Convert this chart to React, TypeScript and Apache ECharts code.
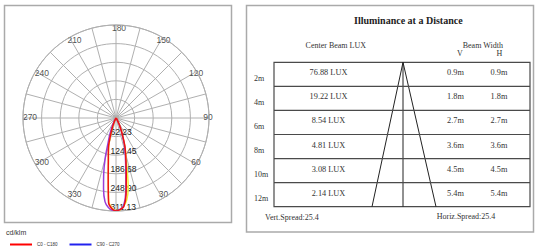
import React, { useEffect, useRef } from 'react';
import * as echarts from 'echarts';

// ---- polar photometric data ----
const angles = [-40, -35, -30, -27.5, -25, -22.5, -20, -17.5, -15, -12.5, -10, -7.5, -5, -2.5, 0, 2.5, 5, 7.5, 10, 12.5, 15, 17.5, 20, 22.5, 25, 27.5, 30, 35, 40];
const c0c180 = [0, 1, 3, 6, 13, 24, 40, 62, 95, 118, 148, 200, 285, 304, 311, 307, 298, 258, 198, 155, 124, 98, 68, 48, 32, 20, 11, 3, 0];
const c90c270 = [0, 2, 8, 16, 28, 44, 64, 90, 140, 190, 240, 282, 300, 309, 310, 306, 294, 250, 190, 148, 118, 92, 64, 44, 28, 16, 8, 2, 0];
const c45c225 = [0, 1, 3, 6, 12, 23, 38, 60, 92, 115, 145, 196, 280, 302, 309, 308, 296, 276, 236, 170, 128, 98, 68, 48, 32, 20, 11, 3, 0];

const radiusMax = 311.13;
const radiusStep = 62.226;
const angleLabels = [30, 60, 90, 120, 150, 180, 210, 240, 270, 300, 330];

// ---- illuminance table data ----
const distances = ['2m', '4m', '6m', '8m', '10m', '12m'];
const centerLux = [76.88, 19.22, 8.54, 4.81, 3.08, 2.14];
const beamV = [0.9, 1.8, 2.7, 3.6, 4.5, 5.4];
const beamH = [0.9, 1.8, 2.7, 3.6, 4.5, 5.4];
const vertSpread = 25.4;
const horizSpread = 25.4;

const toPolar = (vals: number[]) => vals.map((v, i) => [v, (angles[i] + 360) % 360]);

export default function App() {
  const ref = useRef<HTMLDivElement>(null);
  useEffect(() => {
    if (!ref.current) return;
    const chart = echarts.init(ref.current, undefined, { renderer: 'svg' });
    const serif = 'Liberation Serif';
    const sans = 'Liberation Sans';
    const txt = '#333';

    const rowTop = 62.3;
    const rowH = 24.07;
    const tLeft = 274;
    const tRight = 530;
    const tBottom = rowTop + rowH * distances.length;
    const apexX = 403;

    const graphic: any[] = [
      { type: 'rect', shape: { x: 4.5, y: 5.5, width: 227, height: 217 }, style: { fill: 'none', stroke: '#aaa', lineWidth: 1.5 }, z: -1 },
      { type: 'rect', shape: { x: 246.5, y: 5.5, width: 287, height: 226.5 }, style: { fill: 'none', stroke: '#aaa', lineWidth: 1.5 }, z: -1 },
      { type: 'text', style: { text: 'cd/klm', x: 6, y: 232, fontSize: 7, fontFamily: sans, fill: txt, verticalAlign: 'middle' } },
      { type: 'text', style: { text: 'Illuminance at a Distance', x: 408.3, y: 20, fontSize: 10, fontWeight: 'bold', fontFamily: serif, fill: '#222', align: 'center', verticalAlign: 'middle' } },
      { type: 'text', style: { text: 'Center Beam LUX', x: 335.8, y: 45, fontSize: 8, fontFamily: serif, fill: txt, align: 'center', verticalAlign: 'middle' } },
      { type: 'text', style: { text: 'Beam Width', x: 482.8, y: 45.5, fontSize: 8, fontFamily: serif, fill: txt, align: 'center', verticalAlign: 'middle' } },
      { type: 'text', style: { text: 'V', x: 460, y: 53.5, fontSize: 8, fontFamily: serif, fill: txt, align: 'center', verticalAlign: 'middle' } },
      { type: 'text', style: { text: 'H', x: 499.3, y: 53.5, fontSize: 8, fontFamily: serif, fill: txt, align: 'center', verticalAlign: 'middle' } },
      { type: 'rect', shape: { x: tLeft, y: rowTop, width: tRight - tLeft, height: tBottom - rowTop }, style: { fill: 'none', stroke: '#4a4a4a', lineWidth: 1.2 } },
      { type: 'line', shape: { x1: apexX, y1: rowTop, x2: apexX, y2: tBottom }, style: { stroke: '#222', lineWidth: 1 } },
      { type: 'polyline', shape: { points: [[372, tBottom], [apexX, rowTop], [436, tBottom]] }, style: { fill: 'none', stroke: '#222', lineWidth: 1 } },
      { type: 'text', style: { text: `Vert.Spread:${vertSpread}`, x: 265, y: 217, fontSize: 8, fontFamily: serif, fill: txt, verticalAlign: 'middle' } },
      { type: 'text', style: { text: `Horiz.Spread:${horizSpread}`, x: 436.7, y: 216.5, fontSize: 8, fontFamily: serif, fill: txt, verticalAlign: 'middle' } },
    ];
    distances.forEach((d, i) => {
      const y0 = rowTop + rowH * i;
      if (i > 0) {
        graphic.push({ type: 'line', shape: { x1: tLeft, y1: y0, x2: tRight, y2: y0 }, style: { stroke: '#4a4a4a', lineWidth: 1.2 } });
      }
      graphic.push({ type: 'text', style: { text: d, x: 254, y: y0 + 16, fontSize: 8, fontFamily: serif, fill: txt, verticalAlign: 'middle' } });
      graphic.push({ type: 'text', style: { text: `${centerLux[i].toFixed(2)} LUX`, x: 328.5, y: y0 + 10.5, fontSize: 8.3, fontFamily: serif, fill: txt, align: 'center', verticalAlign: 'middle' } });
      graphic.push({ type: 'text', style: { text: `${beamV[i].toFixed(1)}m`, x: 455.5, y: y0 + 10.5, fontSize: 8.3, fontFamily: serif, fill: txt, align: 'center', verticalAlign: 'middle' } });
      graphic.push({ type: 'text', style: { text: `${beamH[i].toFixed(1)}m`, x: 499, y: y0 + 10.5, fontSize: 8.3, fontFamily: serif, fill: txt, align: 'center', verticalAlign: 'middle' } });
    });

    const labelR = radiusMax * 89 / 93;

    const option: any = {
      animation: false,
      backgroundColor: '#fff',
      polar: { center: [116, 118], radius: 93 },
      angleAxis: {
        type: 'value', min: 0, max: 360, interval: 15, startAngle: 270, clockwise: false,
        axisLine: { show: true, lineStyle: { color: '#b0b0b0', width: 1 } },
        axisTick: { show: false },
        axisLabel: { show: false },
        splitLine: { show: true, lineStyle: { color: '#b0b0b0', width: 1 } },
      },
      radiusAxis: {
        type: 'value', min: 0, max: radiusMax, interval: radiusStep,
        axisLine: { show: false }, axisTick: { show: false },
        splitLine: { show: true, lineStyle: { color: '#b0b0b0', width: 1 } },
        axisLabel: {
          margin: -5.5, align: 'left', verticalAlign: 'bottom', fontSize: 8.5, color: '#222', fontFamily: sans,
          formatter: (v: number) => (v === 0 ? '' : v.toFixed(2)),
        },
        z: 3,
      },
      legend: {
        left: 5, top: 237, itemWidth: 22, itemHeight: 2, itemGap: 12, icon: 'rect', selectedMode: false,
        textStyle: { fontSize: 4.5, color: txt, fontFamily: sans },
        data: [
          { name: 'C0 - C180', itemStyle: { color: '#ff0000' } },
          { name: 'C90 - C270', itemStyle: { color: '#2222ee' } },
        ],
      },
      series: [
        {
          name: 'angle labels', type: 'scatter', coordinateSystem: 'polar', symbolSize: 0, silent: true,
          data: angleLabels.map((a) => [labelR, a]),
          label: { show: true, position: 'inside', offset: [3, -1], formatter: (p: any) => String(p.value[1]), fontSize: 8.5, color: '#222', fontFamily: sans },
          z: 1,
        },
        { name: 'C45 - C225', type: 'line', coordinateSystem: 'polar', showSymbol: false, smooth: 0.3, data: toPolar(c45c225), lineStyle: { color: '#f2ea3c', width: 1.5 }, itemStyle: { color: '#f2ea3c' } },
        { name: 'C90 - C270', type: 'line', coordinateSystem: 'polar', showSymbol: false, smooth: 0.3, data: toPolar(c90c270), lineStyle: { color: '#9a3fd8', width: 1.5 }, itemStyle: { color: '#9a3fd8' } },
        { name: 'C0 - C180', type: 'line', coordinateSystem: 'polar', showSymbol: false, smooth: 0.3, data: toPolar(c0c180), lineStyle: { color: '#ee1111', width: 1.5 }, itemStyle: { color: '#ee1111' } },
      ],
      graphic,
    };
    chart.setOption(option);
    return () => chart.dispose();
  }, []);
  return <div ref={ref} style={{ position: 'absolute', left: 0, top: 0, width: 535, height: 250, background: '#fff' }} />;
}
